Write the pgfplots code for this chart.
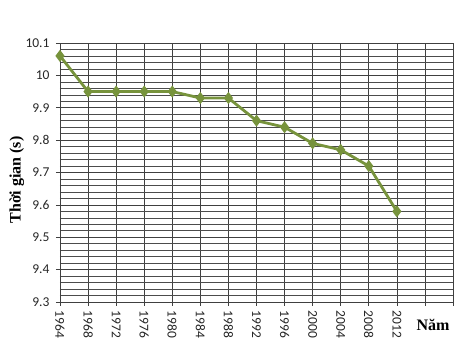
\documentclass[border=0pt]{standalone}
\usepackage{fontspec}
\setmainfont{Liberation Serif}
\newfontfamily\carlito{Carlito}
\usepackage{pgfplots}
\pgfplotsset{compat=1.18}
\definecolor{olive}{HTML}{77933C}
\begin{document}
\begin{tikzpicture}
\useasboundingbox (0,0) rectangle (467pt,361pt);
\begin{axis}[
  at={(60pt,59pt)}, anchor=south west,
  scale only axis, width=393pt, height=259pt,
  xmin=0, xmax=14, ymin=9.3, ymax=10.1,
  xtick={0,...,14},
  xticklabels={1964,1968,1972,1976,1980,1984,1988,1992,1996,2000,2004,2008,2012,{},{}},
  ytick={9.3,9.4,9.5,9.6,9.7,9.8,9.9,10,10.1},
  yticklabels={9.3,9.4,9.5,9.6,9.7,9.8,9.9,10,10.1},
  minor y tick num=4,
  grid=both,
  major grid style={black!75, line width=0.65pt},
  minor grid style={black!70, line width=0.55pt},
  axis line style={black!75, line width=0.75pt},
  tick style={black!75, line width=0.6pt},
  tick align=outside,
  major tick length=4pt, minor tick length=0pt,
  xtick pos=bottom, ytick pos=left,
  /pgf/number format/assume math mode=true,
  ticklabel style={font=\carlito\fontsize{13.5}{15}\selectfont, black!85},
  xticklabel style={rotate=-90, anchor=west, xshift=1pt},
  yticklabel style={xshift=-3pt},
  ylabel={Thời gian (s)},
  ylabel style={at={(axis description cs:-0.110,0.471)}, anchor=center, rotate=0, font=\bfseries\fontsize{16}{18}\selectfont},
  xlabel={Năm},
  xlabel style={at={(axis description cs:0.949,-0.089)}, anchor=center, font=\bfseries\fontsize{16}{18}\selectfont},
]
\addplot[color=olive, line width=2.8pt, mark=diamond*, mark size=3.8pt, mark options={solid}] coordinates {
  (0,10.06) (1,9.95) (2,9.95) (3,9.95) (4,9.95) (5,9.93) (6,9.93)
  (7,9.86) (8,9.84) (9,9.79) (10,9.77) (11,9.72) (12,9.58)
};
\end{axis}
\end{tikzpicture}
\end{document}
